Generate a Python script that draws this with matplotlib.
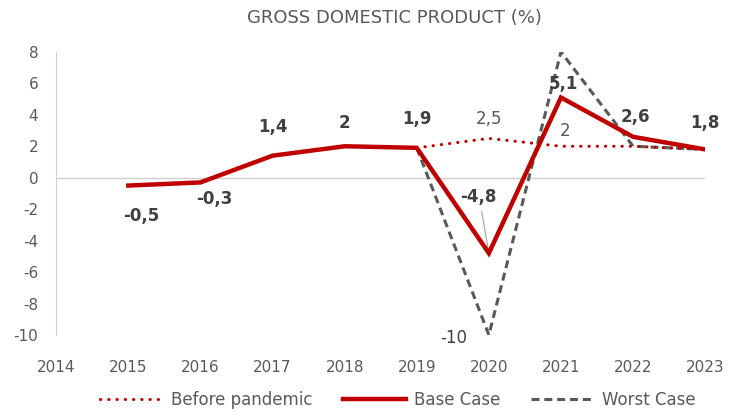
import matplotlib.pyplot as plt

years = [2014, 2015, 2016, 2017, 2018, 2019, 2020, 2021, 2022, 2023]

base_years = [2015, 2016, 2017, 2018, 2019, 2020, 2021, 2022, 2023]
base_case = [-0.5, -0.3, 1.4, 2, 1.9, -4.8, 5.1, 2.6, 1.8]
base_labels = ["-0,5", "-0,3", "1,4", "2", "1,9", "-4,8", "5,1", "2,6", "1,8"]

pre_years = [2019, 2020, 2021, 2022, 2023]
before_pandemic = [1.9, 2.5, 2, 2, 1.8]

worst_years = [2019, 2020, 2021, 2022, 2023]
worst_case = [1.9, -10, 8, 2, 1.8]

RED = "#C00000"
DARK = "#595959"
TEXT = "#404040"

plt.rcParams["font.family"] = ["DejaVu Sans"]
plt.rcParams["axes.unicode_minus"] = False

fig = plt.figure(figsize=(7.3, 4.12), dpi=100)
ax = fig.add_axes([0.077, 0.187, 0.889, 0.687])

ax.plot(pre_years, before_pandemic, color=RED, lw=2.2, linestyle=(0, (0.1, 2.6)),
        dash_capstyle="round", label="Before pandemic", zorder=3)
ax.plot(base_years, base_case, color=RED, lw=3.2, label="Base Case", zorder=4,
        solid_joinstyle="miter")
ax.plot(worst_years, worst_case, color=DARK, lw=2.2, linestyle=(0, (2.6, 1.6)),
        label="Worst Case", zorder=2)

ax.axhline(0, color="#D0D0D0", lw=1, zorder=1)

ax.set_xlim(2014, 2023)
ax.set_ylim(-10, 8)
ax.set_yticks(range(-10, 9, 2))
ax.set_xticks(years)
ax.tick_params(axis="both", length=0, colors=DARK, labelsize=11)
ax.tick_params(axis="x", pad=18)
ax.tick_params(axis="y", pad=13)
for side in ["top", "right", "bottom"]:
    ax.spines[side].set_visible(False)
ax.spines["left"].set_color("#D0D0D0")

# data labels for base case (dx, dy in points)
offsets = {
    2015: (9, -22),
    2016: (10, -12),
    2017: (0, 21),
    2018: (0, 17),
    2019: (0, 21),
    2021: (2, 10),
    2022: (2, 14),
    2023: (0, 19),
}
for x, y, lab in zip(base_years, base_case, base_labels):
    if x == 2020:
        continue
    dx, dy = offsets[x]
    ax.annotate(lab, (x, y), xytext=(dx, dy), textcoords="offset points",
                ha="center", va="center", fontsize=12, fontweight="bold",
                color=TEXT, zorder=6)

# -4,8 label with leader line
ax.annotate("-4,8", (2020, -4.8), xytext=(2019.86, -1.2), textcoords="data",
            ha="center", va="center", fontsize=12, fontweight="bold",
            color=TEXT, zorder=6)
ax.annotate("", (2020, -4.8), xytext=(2019.9, -2.15),
            arrowprops=dict(arrowstyle="-", color="#A0A0A0", lw=0.8,
                            shrinkA=0, shrinkB=0))

ax.annotate("2,5", (2020, 2.5), xytext=(0, 14), textcoords="offset points",
            ha="center", va="center", fontsize=12, color=DARK)
ax.annotate("2", (2021, 2), xytext=(3, 11), textcoords="offset points",
            ha="center", va="center", fontsize=12, color=DARK)
ax.annotate("-10", (2020, -10), xytext=(-25, -2), textcoords="offset points",
            ha="center", va="center", fontsize=12, color=TEXT)

fig.text(0.54, 0.956, "GROSS DOMESTIC PRODUCT (%)", ha="center", va="center",
         fontsize=13, color=DARK)

fig.legend(loc="center", bbox_to_anchor=(0.545, 0.03), ncol=3, frameon=False,
           fontsize=12, labelcolor=DARK, handlelength=3.8, columnspacing=1.8,
           handletextpad=0.5)

fig.savefig("out.png", dpi=100)
